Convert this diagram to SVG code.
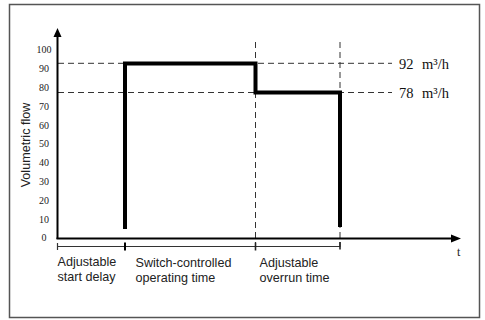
<svg xmlns="http://www.w3.org/2000/svg" width="485" height="320" viewBox="0 0 485 320">
<style>
.frame{fill:#fff;stroke:#555;stroke-width:1.5}
.axis{stroke:#000;stroke-width:2;fill:none}
.dash{stroke:#333;stroke-width:1;stroke-dasharray:6 4;fill:none}
.flow{stroke:#000;stroke-width:4;fill:none;stroke-linejoin:miter;stroke-linecap:butt}
.br{stroke:#333;stroke-width:1.2;fill:none}
.tick{font-family:"Liberation Serif",serif;font-size:10px;fill:#222;text-anchor:middle}
.val{font-family:"Liberation Serif",serif;font-size:14.5px;fill:#111}
.lbl{font-family:"Liberation Sans",Arial,sans-serif;font-size:12.6px;fill:#222}
</style>
<rect class="frame" x="9.5" y="4.5" width="470" height="313"/>
<g id="connectors">
<line class="dash" x1="58" y1="63.3" x2="392" y2="63.3"/>
<line class="dash" x1="58" y1="92.5" x2="392" y2="92.5"/>
<line class="dash" x1="255.5" y1="42" x2="255.5" y2="247"/>
<line class="dash" x1="340" y1="42" x2="340" y2="247"/>
<path class="flow" d="M125,229 V63.5 H255.5 V92.5 H340 V227"/>
</g>
<g id="axes">
<line class="axis" x1="57.5" y1="239" x2="57.5" y2="35"/>
<polygon points="57.5,28 53.5,37 61.5,37" fill="#000"/>
<line class="axis" x1="56.5" y1="238.5" x2="452" y2="238.5"/>
<polygon points="461,238.5 451,234.5 451,242.5" fill="#000"/>
<text x="457" y="256" font-family="Liberation Serif,serif" font-size="12" fill="#222">t</text>
<text class="lbl" transform="translate(29.5,145) rotate(-90)" text-anchor="middle">Volumetric flow</text>
</g>
<g id="yticks">
<text class="tick" x="44" y="53.3">100</text>
<text class="tick" x="44" y="72.1">90</text>
<text class="tick" x="44" y="90.9">80</text>
<text class="tick" x="44" y="109.7">70</text>
<text class="tick" x="44" y="128.5">60</text>
<text class="tick" x="44" y="147.3">50</text>
<text class="tick" x="44" y="166.1">40</text>
<text class="tick" x="44" y="184.9">30</text>
<text class="tick" x="44" y="203.7">20</text>
<text class="tick" x="44" y="222.5">10</text>
<text class="tick" x="44" y="241.3">0</text>
</g>
<g id="level92">
<text class="val" x="399" y="68.5">92</text>
<text class="val" x="422" y="68.5">m³/h</text>
</g>
<g id="level78">
<text class="val" x="399" y="97.5">78</text>
<text class="val" x="422" y="97.5">m³/h</text>
</g>
<g id="timeline">
<line class="br" x1="57.5" y1="246.5" x2="340" y2="246.5"/>
<line class="br" x1="57.5" y1="243" x2="57.5" y2="250"/>
<line x1="125" y1="242.5" x2="125" y2="250.5" stroke="#000" stroke-width="2"/>
<line x1="255.5" y1="242.5" x2="255.5" y2="250.5" stroke="#222" stroke-width="1.6"/>
<line x1="340" y1="242" x2="340" y2="249.5" stroke="#222" stroke-width="1.6"/>
</g>
<g id="phase1">
<text class="lbl" x="57.5" y="265.5">Adjustable</text>
<text class="lbl" x="57.5" y="280.5">start delay</text>
</g>
<g id="phase2">
<text class="lbl" x="135.5" y="267.3">Switch-controlled</text>
<text class="lbl" x="135.5" y="282">operating time</text>
</g>
<g id="phase3">
<text class="lbl" x="259.5" y="267.3">Adjustable</text>
<text class="lbl" x="259.5" y="282">overrun time</text>
</g>
</svg>
